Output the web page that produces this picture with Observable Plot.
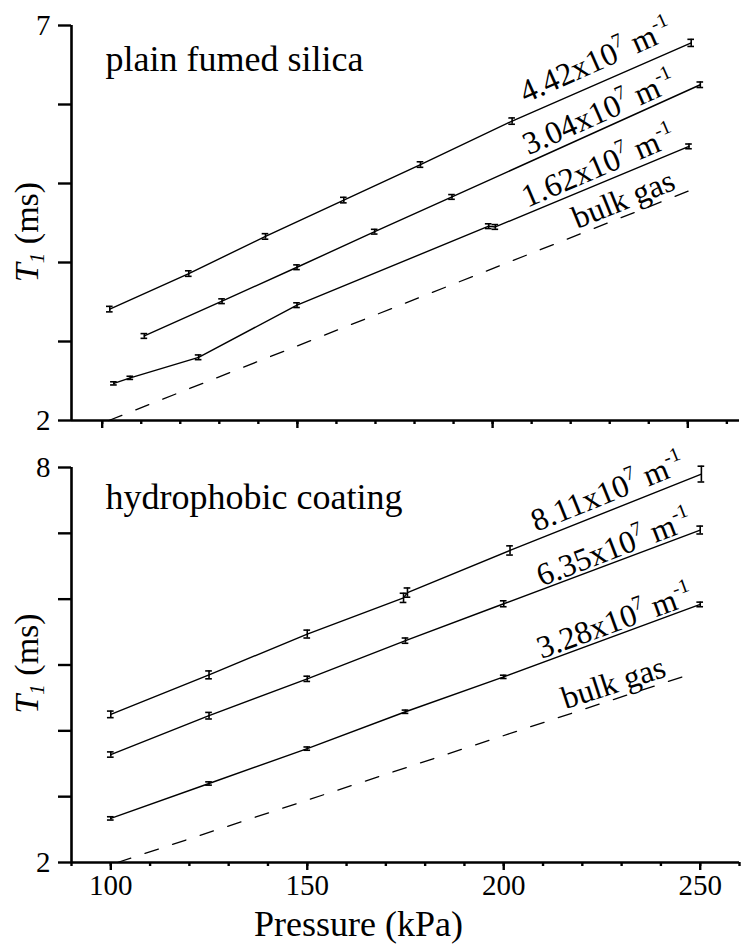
<!DOCTYPE html>
<html><head><meta charset="utf-8">
<script src="https://cdn.jsdelivr.net/npm/d3@7"></script>
<script src="https://cdn.jsdelivr.net/npm/@observablehq/plot@0.6"></script>
<style>
html,body{margin:0;padding:0;background:#fff;}
#chart{width:751px;}
#chart svg{display:block;}
</style></head><body><div id="chart"></div>
<script>
// ---------- text ----------
const topTitle = "plain fumed silica";
const bottomTitle = "hydrophobic coating";
const yLabel = "T_1 (ms)";
const xLabel = "Pressure (kPa)";

// ---------- ticks ----------
const topYTicks = [2, 3, 4, 5, 6, 7];
const topYTickLabels = [2, 7];
const bottomYTicks = [2, 3, 4, 5, 6, 7, 8];
const bottomYTickLabels = [2, 8];
const xMinorTicks = [90, 100, 110, 120, 130, 140, 150, 160, 170, 180, 190, 200, 210, 220, 230, 240, 250, 260];
const xMajorTicks = [100, 150, 200, 250];
const topXDomain = [92.14, 263.24];
const bottomXDomain = [90, 260];
const topYDomain = [2, 7];
const bottomYDomain = [2, 8];

// ---------- top panel: plain fumed silica ----------
const top442P = [101.95, 122.18, 141.83, 161.89, 181.53, 205.0, 250.87];
const top442T = [3.41, 3.86, 4.33, 4.79, 5.24, 5.79, 6.78];
const top442E = [0.035, 0.035, 0.035, 0.035, 0.035, 0.04, 0.045];

const top304P = [110.8, 130.7, 149.9, 169.8, 189.6, 253.2];
const top304T = [3.07, 3.51, 3.94, 4.39, 4.83, 6.25];
const top304E = [0.03, 0.03, 0.03, 0.03, 0.03, 0.035];

const top162P = [103.0, 107.2, 124.7, 149.9, 199.0, 200.7, 250.3];
const top162T = [2.47, 2.54, 2.80, 3.46, 4.46, 4.45, 5.47];
const top162E = [0.02, 0.02, 0.03, 0.03, 0.03, 0.03, 0.03];

const topBulkP = [101.7, 252.5];
const topBulkT = [2.0, 4.95];

// ---------- bottom panel: hydrophobic coating ----------
const bot811P = [100, 125, 150, 174.5, 175.5, 201.6, 250.3];
const bot811T = [4.25, 4.85, 5.47, 6.02, 6.10, 6.74, 7.90];
const bot811E = [0.05, 0.06, 0.06, 0.07, 0.07, 0.07, 0.12];

const bot635P = [100, 125, 150, 175, 200, 250];
const bot635T = [3.64, 4.23, 4.79, 5.37, 5.93, 7.05];
const bot635E = [0.04, 0.05, 0.04, 0.04, 0.045, 0.06];

const bot328P = [100, 125, 150, 175, 200, 250];
const bot328T = [2.67, 3.20, 3.73, 4.29, 4.82, 5.92];
const bot328E = [0.025, 0.025, 0.025, 0.025, 0.025, 0.035];

const botBulkP = [101.7, 247.0];
const botBulkT = [2.0, 4.85];

// ---------- labels ----------
const topLabelText = ["4.42x10^7 m^-1", "3.04x10^7 m^-1", "1.62x10^7 m^-1", "bulk gas"];
const botLabelText = ["8.11x10^7 m^-1", "6.35x10^7 m^-1", "3.28x10^7 m^-1", "bulk gas"];

const FONT = "'Liberation Serif', 'Times New Roman', serif";
const NS = "http://www.w3.org/2000/svg";

function interp(ps, ts, p) {
  for (let i = 0; i < ps.length - 1; i++) {
    if (p >= ps[i] && p <= ps[i + 1]) {
      const f = (p - ps[i]) / (ps[i + 1] - ps[i]);
      return ts[i] + f * (ts[i + 1] - ts[i]);
    }
  }
  return p < ps[0] ? ts[0] : ts[ts.length - 1];
}

function makePanel(cfg) {
  const rows = cfg.series.flatMap(s => s.p.map((p, i) => ({name: s.name, p, t: s.t[i], e: s.e[i]})));
  const bulkRows = cfg.bulk.p.map((p, i) => ({p, t: cfg.bulk.t[i]}));
  const within = t => t >= cfg.xDomain[0] - 1e-6 && t <= cfg.xDomain[1] + 1e-6;
  const cap = 0.85;
  const labelFs = 32;
  const byName = Object.fromEntries(cfg.series.map(s => [s.name, s]));
  byName.bulk = cfg.bulk;

  const marks = [
    Plot.ruleX([cfg.xDomain[0]], {strokeWidth: 2.6}),
    Plot.ruleY([cfg.yDomain[0]], {strokeWidth: 2.6}),
    Plot.axisY({ticks: cfg.yTicks, tickSize: 13, tickPadding: 8, strokeWidth: 2.4,
      tickFormat: d => cfg.yTickLabels.includes(d) ? String(d) : "", fontSize: 29, label: null}),
    Plot.axisX({ticks: xMinorTicks.filter(within), tickSize: 4, strokeWidth: 2.4,
      tickFormat: () => "", label: null}),
    Plot.axisX({ticks: xMajorTicks.filter(within), tickSize: 8, tickPadding: 4, strokeWidth: 2.4,
      tickFormat: d => cfg.showXLabels ? String(d) : "", fontSize: 29, label: null}),
    Plot.line(bulkRows, {x: "p", y: "t", stroke: "black", strokeWidth: 1.3, strokeDasharray: "14,15"}),
    Plot.line(rows, {x: "p", y: "t", z: "name", stroke: "black", strokeWidth: 1.4}),
    Plot.ruleX(rows, {x: "p", y1: d => d.t - d.e, y2: d => d.t + d.e, strokeWidth: 1.6}),
    Plot.ruleY(rows, {y: d => d.t + d.e, x1: d => d.p - cap, x2: d => d.p + cap, strokeWidth: 1.6}),
    Plot.ruleY(rows, {y: d => d.t - d.e, x1: d => d.p - cap, x2: d => d.p + cap, strokeWidth: 1.6}),
    Plot.text([cfg.title], {frameAnchor: "top-left", dx: 34, dy: cfg.titleDy, textAnchor: "start",
      lineAnchor: "bottom", fontSize: 36}),
    Plot.text([yLabel], {frameAnchor: "left", rotate: -90, dx: -34, dy: cfg.yLabelDy,
      textAnchor: "middle", lineAnchor: "bottom", fontSize: 34})
  ];
  cfg.labels.forEach(lab => {
    const s = byName[lab.series];
    const yv = interp(s.p, s.t, lab.p);
    marks.push(Plot.text([lab], {x: d => d.p, y: () => yv, text: d => d.text, rotate: lab.rot,
      dy: lab.off, textAnchor: "start", lineAnchor: "bottom", fontSize: labelFs}));
  });
  if (cfg.showXLabels) {
    marks.push(Plot.text([xLabel], {frameAnchor: "bottom", dx: -47, dy: 73, lineAnchor: "bottom", fontSize: 36}));
  }
  const svg = Plot.plot({
    width: 751, height: cfg.height,
    marginLeft: 71, marginRight: 12, marginTop: cfg.marginTop, marginBottom: cfg.marginBottom,
    style: {fontFamily: FONT, fontSize: "29px", color: "black", background: "white", overflow: "visible"},
    x: {type: "linear", domain: cfg.xDomain},
    y: {type: "linear", domain: cfg.yDomain},
    marks
  });
  richText(svg, labelFs, 34);
  return svg;
}

function richText(svg, fs, yfs) {
  svg.querySelectorAll("text").forEach(el => {
    const s = el.textContent;
    if (s.includes("^")) {
      const parts = s.split(/\^(\S+)/);
      el.textContent = "";
      let shift = 0;
      parts.forEach((part, i) => {
        if (!part) return;
        const sup = i % 2 === 1;
        const target = sup ? -0.42 * fs : 0;
        const ts = document.createElementNS(NS, "tspan");
        ts.setAttribute("dy", target - shift);
        shift = target;
        if (sup) ts.setAttribute("font-size", 0.62 * fs);
        ts.textContent = part;
        el.appendChild(ts);
      });
    } else if (s === yLabel) {
      const [main, rest] = s.split("_");
      const sub = rest.slice(0, 1), tail = rest.slice(1);
      el.textContent = "";
      const t1 = document.createElementNS(NS, "tspan");
      t1.setAttribute("font-style", "italic"); t1.textContent = main;
      const t2 = document.createElementNS(NS, "tspan");
      t2.setAttribute("font-style", "italic"); t2.setAttribute("font-size", 0.62 * yfs);
      t2.setAttribute("dy", 0.2 * yfs); t2.textContent = sub;
      const t3 = document.createElementNS(NS, "tspan");
      t3.setAttribute("dy", -0.2 * yfs); t3.textContent = tail;
      el.append(t1, t2, t3);
    }
  });
}

const topPanel = makePanel({
  title: topTitle, titleDy: 45, yLabelDy: 9,
  height: 440, marginTop: 25, marginBottom: 20,
  xDomain: topXDomain, yDomain: topYDomain, yTicks: topYTicks, yTickLabels: topYTickLabels,
  showXLabels: false,
  series: [
    {name: "4.42", p: top442P, t: top442T, e: top442E},
    {name: "3.04", p: top304P, t: top304T, e: top304E},
    {name: "1.62", p: top162P, t: top162T, e: top162E}
  ],
  bulk: {p: topBulkP, t: topBulkT},
  labels: [
    {series: "4.42", text: topLabelText[0], p: 208.4, off: -12, rot: -24},
    {series: "3.04", text: topLabelText[1], p: 209.2, off: -7, rot: -24},
    {series: "1.62", text: topLabelText[2], p: 208.9, off: -6, rot: -23},
    {series: "bulk", text: topLabelText[3], p: 221.7, off: -6, rot: -22}
  ]
});

const bottomPanel = makePanel({
  title: bottomTitle, titleDy: 41, yLabelDy: -1.5,
  height: 512, marginTop: 27, marginBottom: 90,
  xDomain: bottomXDomain, yDomain: bottomYDomain, yTicks: bottomYTicks, yTickLabels: bottomYTickLabels,
  showXLabels: true,
  series: [
    {name: "8.11", p: bot811P, t: bot811T, e: bot811E},
    {name: "6.35", p: bot635P, t: bot635T, e: bot635E},
    {name: "3.28", p: bot328P, t: bot328T, e: bot328E}
  ],
  bulk: {p: botBulkP, t: botBulkT},
  labels: [
    {series: "8.11", text: botLabelText[0], p: 208.3, off: -8, rot: -22},
    {series: "6.35", text: botLabelText[1], p: 209.6, off: -3, rot: -21},
    {series: "3.28", text: botLabelText[2], p: 209.6, off: -4, rot: -20},
    {series: "bulk", text: botLabelText[3], p: 215.7, off: -6, rot: -18}
  ]
});

const chart = document.getElementById("chart");
chart.append(topPanel, bottomPanel);
</script>
</body></html>
